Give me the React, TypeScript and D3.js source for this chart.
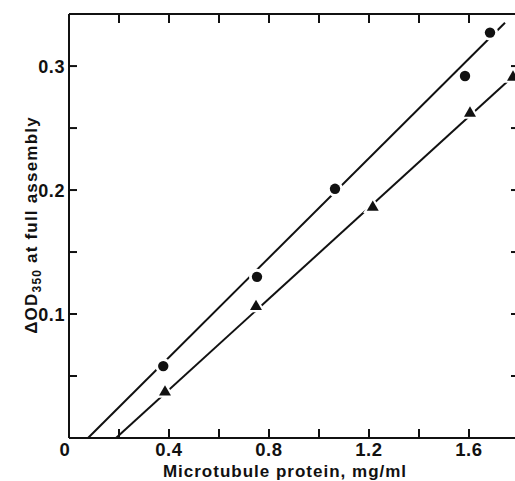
import React from "react";
import * as d3 from "d3";

const circleX = [0.377, 0.752, 1.064, 1.584, 1.684];
const circleY = [0.058, 0.130, 0.201, 0.292, 0.327];
const triX = [0.384, 0.748, 1.215, 1.604, 1.776];
const triY = [0.037, 0.106, 0.186, 0.262, 0.291];
const circleFitX = [0.076, 1.744];
const circleFitY = [0, 0.335];
const triFitX = [0.188, 1.8];
const triFitY = [0, 0.296];
const xMajor = [0, 0.4, 0.8, 1.2, 1.6];
const xMajorLabels = ["0", "0.4", "0.8", "1.2", "1.6"];
const xTicks = [0.2, 0.4, 0.6, 0.8, 1.0, 1.2, 1.4, 1.6];
const yMajor = [0.1, 0.2, 0.3];
const yMajorLabels = ["0.1", "0.2", "0.3"];
const yTicks = [0.05, 0.1, 0.15, 0.2, 0.25, 0.3];

export default function App() {
  const W = 515, H = 481;
  const x = d3.scaleLinear().domain([0, 1.8]).range([69, 519]);
  const y = d3.scaleLinear().domain([0, 0.342]).range([438, 14]);
  const font = "'Liberation Sans', Arial, Helvetica, sans-serif";
  const line = d3.line<[number, number]>().x((d) => x(d[0])).y((d) => y(d[1]));
  const fitC: [number, number][] = circleFitX.map((v, i) => [v, circleFitY[i]]);
  const fitT: [number, number][] = triFitX.map((v, i) => [v, triFitY[i]]);
  const triPath = d3.symbol().type(d3.symbolTriangle).size(62)();
  const triHalo = d3.symbol().type(d3.symbolTriangle).size(160)();
  const [x0, x1] = x.range();
  const [y0, y1] = y.range();
  const stroke = "#111";
  return (
    <svg width={W} height={H} style={{ position: "absolute", left: 0, top: 0, background: "#fff" }}>
      <rect x={0} y={0} width={W} height={H} fill="#fff" />
      <path d={line(fitC) || ""} stroke={stroke} strokeWidth={2} fill="none" />
      <path d={line(fitT) || ""} stroke={stroke} strokeWidth={2} fill="none" />
      {circleX.map((v, i) => (
        <g key={"c" + i}>
          <circle cx={x(v)} cy={y(circleY[i])} r={8} fill="#fff" />
          <circle cx={x(v)} cy={y(circleY[i])} r={5.2} fill={stroke} />
        </g>
      ))}
      {triX.map((v, i) => (
        <g key={"t" + i} transform={`translate(${x(v)},${y(triY[i])})`}>
          <path d={triHalo || ""} fill="#fff" />
          <path d={triPath || ""} fill={stroke} />
        </g>
      ))}
      <line x1={x0} x2={x0} y1={y1} y2={y0} stroke={stroke} strokeWidth={2} />
      <line x1={x0} x2={x1} y1={y0} y2={y0} stroke={stroke} strokeWidth={2} />
      <line x1={x0} x2={x1} y1={y1} y2={y1} stroke={stroke} strokeWidth={2} />
      <line x1={x1} x2={x1} y1={y1} y2={y0} stroke={stroke} strokeWidth={2} />
      {xTicks.map((t) => (
        <g key={"xt" + t}>
          <line x1={x(t)} x2={x(t)} y1={y0} y2={y0 - 9} stroke={stroke} strokeWidth={2} />
          <line x1={x(t)} x2={x(t)} y1={y1} y2={y1 + 9} stroke={stroke} strokeWidth={2} />
        </g>
      ))}
      {yTicks.map((t) => (
        <g key={"yt" + t}>
          <line x1={x0} x2={x0 + 8} y1={y(t)} y2={y(t)} stroke={stroke} strokeWidth={2} />
          <line x1={x1} x2={x1 - 8} y1={y(t)} y2={y(t)} stroke={stroke} strokeWidth={2} />
        </g>
      ))}
      {xMajor.map((t, i) => (
        <text key={"xl" + t} x={x(t) - (t === 0 ? 4 : 0)} y={456} textAnchor="middle"
          fontFamily={font} fontWeight="bold" fontSize={18.5} letterSpacing={0.6} fill={stroke}>{xMajorLabels[i]}</text>
      ))}
      {yMajor.map((t, i) => (
        <text key={"yl" + t} x={65} y={y(t) + 6.5} textAnchor="end"
          fontFamily={font} fontWeight="bold" fontSize={18} letterSpacing={0.6} fill={stroke}>{yMajorLabels[i]}</text>
      ))}
      <text x={285} y={477} textAnchor="middle" fontFamily={font} fontWeight="bold" fontSize={17} letterSpacing={1} fill={stroke}>
        Microtubule protein, mg/ml
      </text>
      <text transform="translate(37,225) rotate(-90)" textAnchor="middle" fontFamily={font} fontWeight="bold" fontSize={17} letterSpacing={1.2} fill={stroke}>
        ΔOD<tspan fontSize={12} dy={4}>350</tspan><tspan dy={-4}> at full assembly</tspan>
      </text>
    </svg>
  );
}
